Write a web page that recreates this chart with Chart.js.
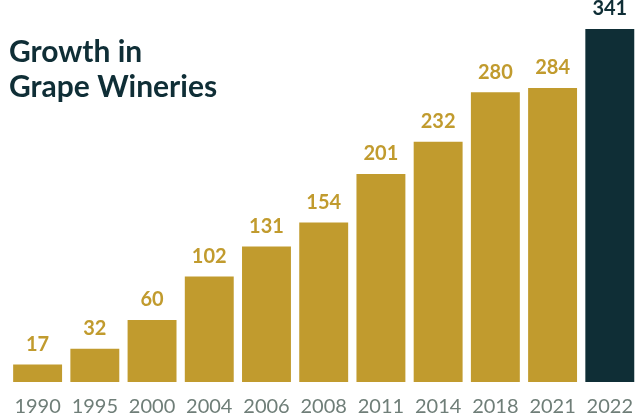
<!DOCTYPE html>
<html>
<head>
<meta charset="utf-8">
<title>Growth in Grape Wineries</title>
<script src="https://cdn.jsdelivr.net/npm/chart.js@4"></script>
<style>
  html, body { margin: 0; padding: 0; background: #ffffff; overflow: hidden; }
  canvas { display: block; }
</style>
</head>
<body>
<canvas id="wineriesChart" width="646" height="417"></canvas>
<script>
// Number of grape wineries by year
const years = ['1990', '1995', '2000', '2004', '2006', '2008', '2011', '2014', '2018', '2021', '2022'];
const wineries = [17, 32, 60, 102, 131, 154, 201, 232, 280, 284, 341];
const titleLines = ['Growth in', 'Grape Wineries'];

const GOLD = '#C19B2E';
const DARK = '#0F2E36';
const GREY = '#6F7E78';

// latest year is highlighted in dark teal
const barColors = years.map((y, i) => i === years.length - 1 ? DARK : GOLD);

// title in the top-left corner plus value labels above each bar
const annotate = {
  id: 'annotate',
  afterDatasetsDraw(chart) {
    const ctx = chart.ctx;
    ctx.save();
    ctx.fillStyle = DARK;
    ctx.font = 'bold 30px Lato';
    ctx.textAlign = 'left';
    ctx.textBaseline = 'alphabetic';
    ctx.fillText(titleLines[0], 9, 62);
    ctx.fillText(titleLines[1], 9, 97);

    ctx.font = 'bold 20px Lato';
    ctx.textAlign = 'center';
    ctx.textBaseline = 'middle';
    chart.getDatasetMeta(0).data.forEach((bar, i) => {
      ctx.fillStyle = barColors[i];
      ctx.fillText(String(wineries[i]), bar.x, bar.y - 20);
    });
    ctx.restore();
  }
};

const chart = new Chart(document.getElementById('wineriesChart'), {
  type: 'bar',
  data: {
    labels: years,
    datasets: [{
      data: wineries,
      backgroundColor: barColors,
      borderWidth: 0,
      categoryPercentage: 1,
      barPercentage: 0.855
    }]
  },
  options: {
    responsive: false,
    animation: false,
    layout: { padding: { left: 9, right: 0, top: 0, bottom: 0 } },
    plugins: {
      legend: { display: false },
      tooltip: { enabled: false }
    },
    scales: {
      x: {
        grid: { display: false, drawTicks: false },
        border: { display: false },
        ticks: {
          color: GREY,
          font: { family: 'Lato', size: 20 },
          padding: 13,
          maxRotation: 0,
          autoSkip: false
        },
        // fixed axis band so the bars sit on y = 382
        afterFit(scale) {
          scale.height = 35;
        }
      },
      y: {
        display: false,
        min: 0,
        max: 369
      }
    }
  },
  plugins: [annotate]
});
</script>
</body>
</html>
